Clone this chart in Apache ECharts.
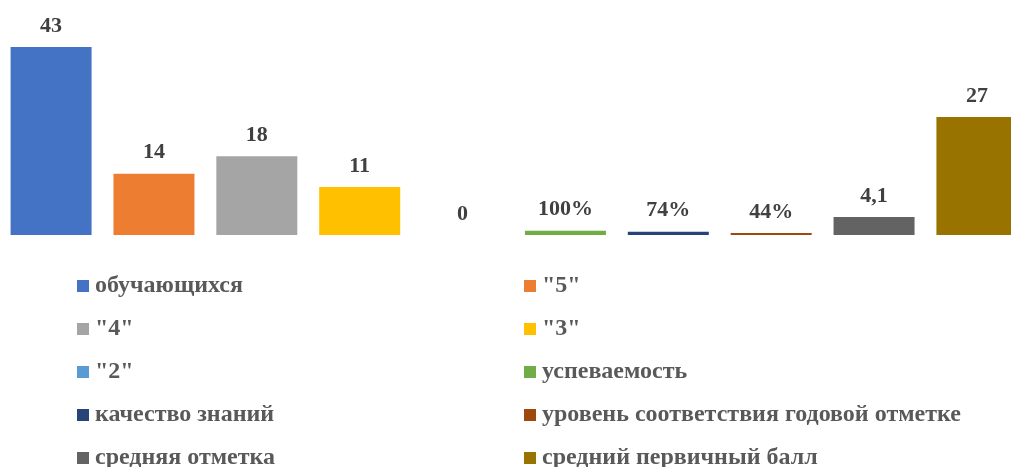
<!DOCTYPE html>
<html>
<head>
<meta charset="utf-8">
<script src="https://cdn.jsdelivr.net/npm/echarts@6/dist/echarts.min.js"></script>
<style>
html,body{margin:0;padding:0;background:#fff;overflow:hidden;}
/* the last bar runs past the right edge in the original, so the canvas is a bit wider than the page */
#chart{width:1028px;height:467px;}
</style>
</head>
<body>
<div id="chart"></div>
<script>
var seriesNames = ['обучающихся', '"5"', '"4"', '"3"', '"2"', 'успеваемость', 'качество знаний', 'уровень соответствия годовой отметке', 'средняя отметка', 'средний первичный балл'];
var seriesValues = [43, 14, 18, 11, 0, 1, 0.74, 0.44, 4.1, 27];
var valueFormats = ['int', 'int', 'int', 'int', 'int', 'pct', 'pct', 'pct', 'dec', 'int'];
var colorList = ['#4472c4', '#ed7d31', '#a5a5a5', '#ffc000', '#5b9bd5', '#70ad47', '#264478', '#9e480e', '#636363', '#997300'];
var leftLegend = ['обучающихся', '"4"', '"2"', 'качество знаний', 'средняя отметка'];
var rightLegend = ['"5"', '"3"', 'успеваемость', 'уровень соответствия годовой отметке', 'средний первичный балл'];

var fontName = '"Liberation Serif", "Times New Roman", serif';

function fmt(v, f) {
    if (f == 'pct') { return Math.round(v * 100) + '%'; }
    return String(v).replace('.', ',');
}

var chart = echarts.init(document.getElementById('chart'));
var seriesData = [];
seriesNames.forEach(function (name, k) {
    seriesData.push({
        name: name,
        type: 'bar',
        barWidth: 81,
        barGap: '27%',
        itemStyle: { color: colorList[k] },
        label: {
            show: true,
            position: 'top',
            distance: 10,
            color: '#404040',
            fontFamily: fontName,
            fontWeight: 'bold',
            fontSize: 22,
            formatter: function () { return fmt(seriesValues[k], valueFormats[k]); }
        },
        data: [seriesValues[k]]
    });
});

var legendBase = {
    orient: 'vertical',
    top: 274,
    height: 260,
    padding: 0,
    itemWidth: 12,
    itemHeight: 12,
    itemGap: 19,
    icon: 'rect',
    textStyle: {
        color: '#595959',
        fontFamily: fontName,
        fontWeight: 'bold',
        fontSize: 24,
        lineHeight: 24,
        padding: [0, 0, 0, 1]
    }
};

var option = {
    animation: false,
    backgroundColor: '#fff',
    grid: { left: 0, right: 0, top: 47, bottom: 232 },
    legend: [
        Object.assign({}, legendBase, { left: 77, data: leftLegend }),
        Object.assign({}, legendBase, { left: 524, data: rightLegend })
    ],
    xAxis: { type: 'category', data: [''], show: false },
    yAxis: { type: 'value', min: 0, max: 43, show: false },
    series: seriesData
};
chart.setOption(option);
</script>
</body>
</html>
